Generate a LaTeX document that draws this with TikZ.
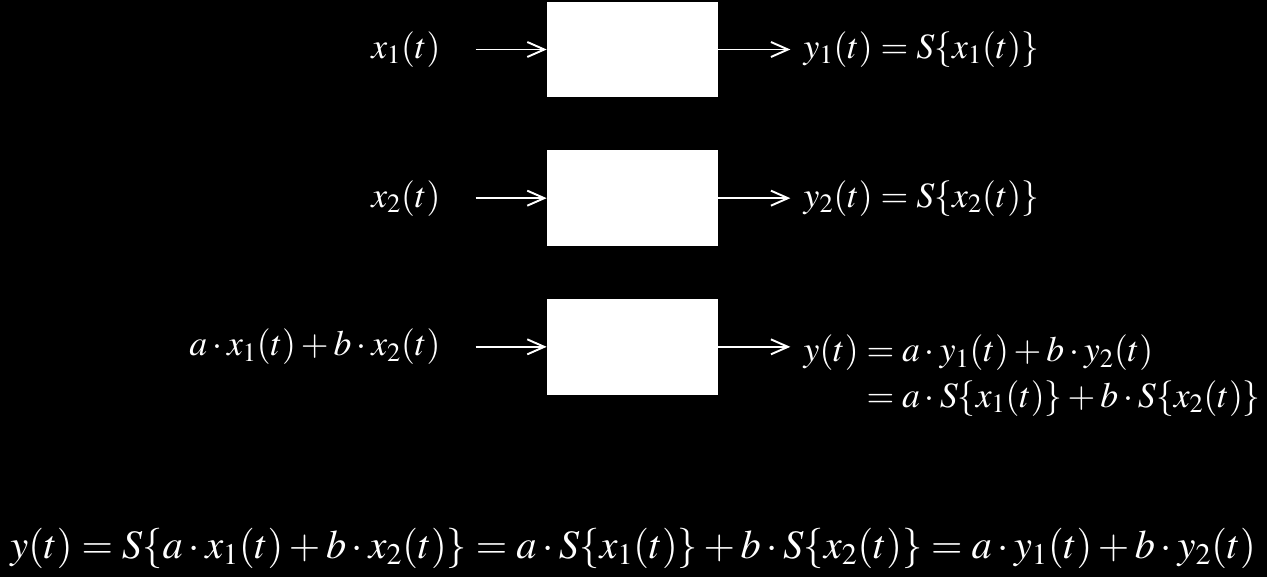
\documentclass[tikz,border=0pt]{standalone}
\usepackage{mathptmx}
\usepackage{amsmath}
\usetikzlibrary{positioning,arrows.meta}

\begin{document}
\begin{tikzpicture}
[x=0.02cm, y=-0.02cm, white,
sysbox/.style={rectangle, fill=white, minimum width=3.42cm, minimum height=1.92cm, inner sep=0pt},
sig/.style={inner sep=0pt, font=\fontsize{20.3}{26}\selectfont},
flow/.style={line width=1.1pt, -{Straight Barb[length=3.4mm,width=3mm]}},
node distance=1.04cm,
]
\fill[black] (0,0) rectangle (1267,577);
\useasboundingbox (0,0) rectangle (1267,577);
% systems
\node[sysbox]	(S1) at (632.5,49.5) {};
\node[sysbox]	(S2) [below=of S1] {};
\node[sysbox]	(S3) [below=of S2] {};
% inputs
\node[sig]	(x1) [left=2.12cm of S1] {$x_1(t)$};
\node[sig]	(x2) [left=2.12cm of S2] {$x_2(t)$};
\node[sig]	(x3) [left=2.12cm of S3] {$a\cdot x_1(t)+b\cdot x_2(t)$};
\coordinate[left=1.42cm of S1]	(in1);
\coordinate[left=1.42cm of S2]	(in2);
\coordinate[left=1.42cm of S3]	(in3);
% outputs
\node[sig]	(y1) [right=1.7cm of S1] {$y_1(t)=S\{x_1(t)\}$};
\node[sig]	(y2) [right=1.7cm of S2] {$y_2(t)=S\{x_2(t)\}$};
\node[sig]	(y3) [right=1.7cm of S3, yshift=-0.57cm] {$\begin{aligned}
  y(t)&=a\cdot y_1(t)+b\cdot y_2(t)\\[-3pt]
  &=a\cdot S\{x_1(t)\}+b\cdot S\{x_2(t)\}
  \end{aligned}$};
\coordinate[right=1.44cm of S1]	(out1);
\coordinate[right=1.44cm of S2]	(out2);
\coordinate[right=1.44cm of S3]	(out3);
\foreach \i in {1,2,3} {
  \draw[flow] (in\i) -- (S\i);
  \draw[flow] (S\i) -- (out\i);
}
% superposition
\node[sig, font=\fontsize{23}{28}\selectfont] (law) at (633,548)
  {$y(t)=S\{a\cdot x_1(t)+b\cdot x_2(t)\}=a\cdot S\{x_1(t)\}+b\cdot S\{x_2(t)\}=a\cdot y_1(t)+b\cdot y_2(t)$};
\end{tikzpicture}
\end{document}
